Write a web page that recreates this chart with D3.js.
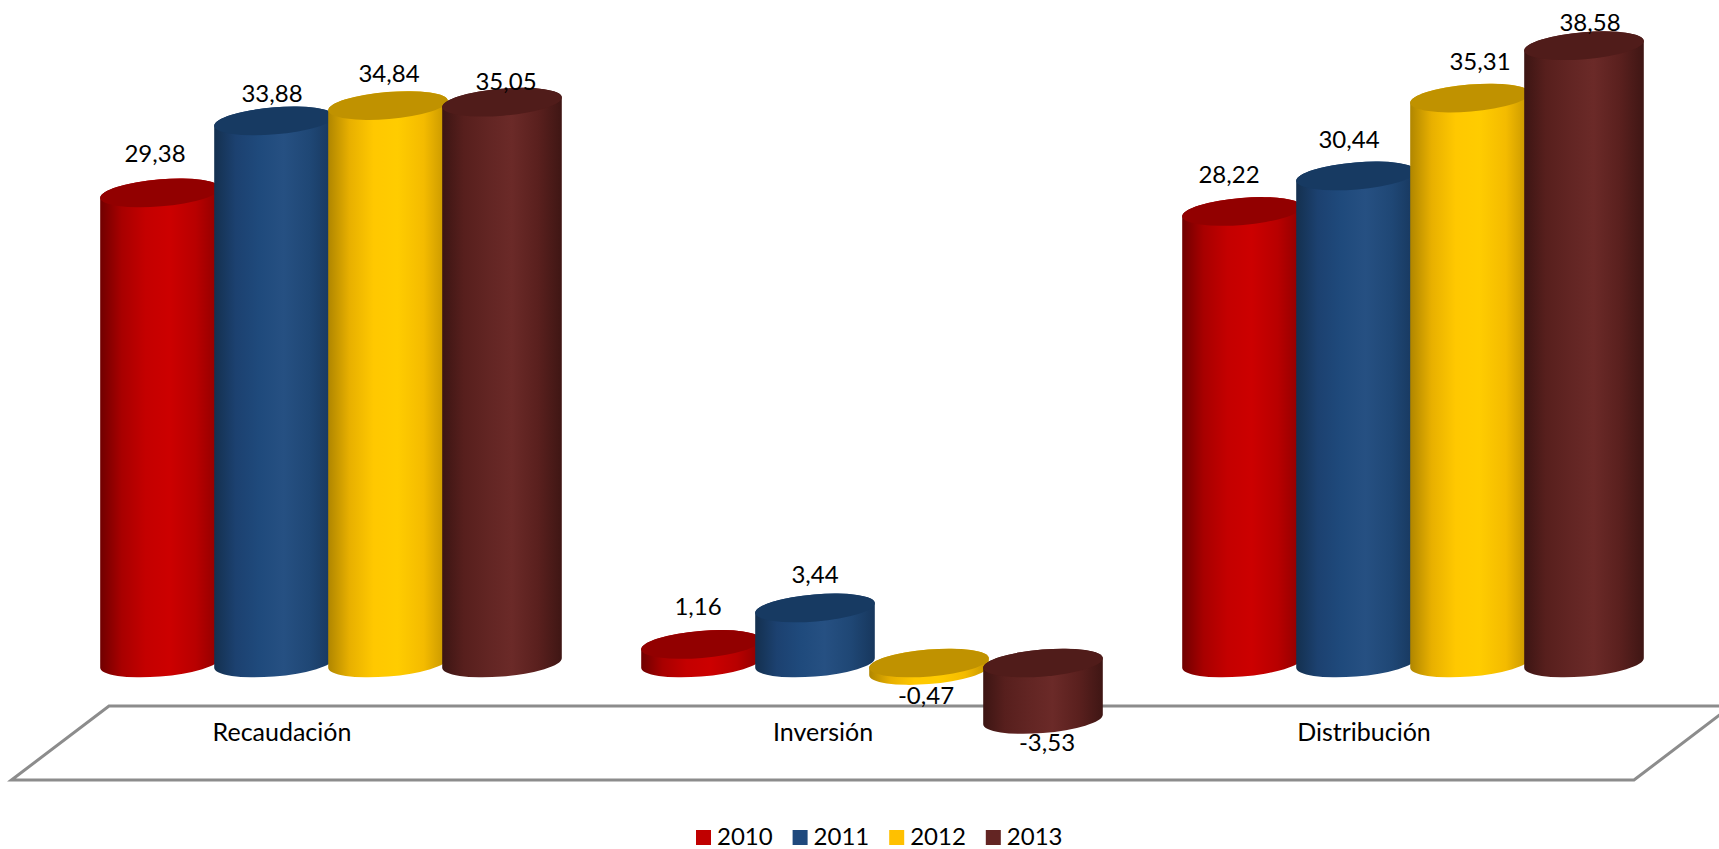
<!DOCTYPE html>
<html>
<head>
<meta charset="utf-8">
<script src="https://cdn.jsdelivr.net/npm/d3@7"></script>
<style>
  html, body { margin: 0; padding: 0; background: #fff; }
  svg { display: block; }
  text { font-family: Lato, "Open Sans", sans-serif; fill: #000; }
</style>
</head>
<body>
<svg id="chart" width="1719" height="849"></svg>
<script>
const categories = ["Recaudación", "Inversión", "Distribución"];
const years = ["2010", "2011", "2012", "2013"];

const values2010 = [29.38, 1.16, 28.22];
const values2011 = [33.88, 3.44, 30.44];
const values2012 = [34.84, -0.47, 35.31];
const values2013 = [35.05, -3.53, 38.58];

const seriesValues = [values2010, values2011, values2012, values2013];

// side shading of each cylinder, left to right, and its lid colour
const barColors = [
  ["#700000", "#a80000", "#c40000", "#cc0000", "#b80000", "#8e0000"],
  ["#14304f", "#1c4170", "#1f4a7c", "#265082", "#1f4775", "#17375d"],
  ["#b08600", "#e8b000", "#ffc800", "#ffcc00", "#f4bb00", "#c49400"],
  ["#3c1513", "#571f1d", "#622523", "#6b2a28", "#5a201e", "#3f1614"]
];
const lidColors = ["#920000", "#173a62", "#c09200", "#501c1a"];
const legendColors = ["#c00000", "#1f497d", "#ffc000", "#632523"];
const gradientStops = [0, 0.18, 0.38, 0.58, 0.8, 1];

// labels were placed by hand in the original chart
const labelNudgeX = [
  [-5, -2, 1, 4], [-3, 0, -3, 4], [-13, -7, 10, 6]
];
const labelBaseline = [
  [162, 102, 82, 90], [615, 583, 704, 751], [183, 148, 70, 31]
];

const valueSize = 24, categorySize = 25;
const rx = 60, ry = 13.5, tilt = -4.8;

const svg = d3.select("#chart");
const defs = svg.append("defs");

const x0 = d3.scaleBand()
  .domain(categories)
  .range([60.5, 1683.5]);

const x1 = d3.scaleBand()
  .domain(years)
  .range([x0.bandwidth() / 2 - 228, x0.bandwidth() / 2 + 228]);

const y = d3.scaleLinear()
  .domain([-5, 40])
  .range([743, 23]);

barColors.forEach((stops, i) => {
  const grad = defs.append("linearGradient")
    .attr("id", "side" + i);
  stops.forEach((c, j) => {
    grad.append("stop")
      .attr("offset", gradientStops[j])
      .attr("stop-color", c);
  });
});

// floor of the chart
const floorTop = 706, floorBottom = 780, floorSlant = 97.5;
const floorLeft = x0.range()[0] - 49, floorRight = x0.range()[1] - 49.5;
svg.append("path")
  .attr("d", d3.line()([
    [floorLeft, floorBottom],
    [floorLeft + floorSlant, floorTop],
    [floorRight + floorSlant, floorTop],
    [floorRight, floorBottom]
  ]) + "Z")
  .attr("fill", "none")
  .attr("stroke", "#8c8c8c")
  .attr("stroke-width", 3);

svg.selectAll(".cat")
  .data(categories)
  .enter().append("text")
  .attr("class", "cat")
  .attr("x", d => x0(d) + x0.bandwidth() / 2 - 49)
  .attr("y", 741)
  .attr("text-anchor", "middle")
  .attr("font-size", categorySize)
  .text(d => d);

// horizontal and vertical reach of the tilted ellipse
const t = tilt * Math.PI / 180;
const reachX = Math.sqrt(rx * rx * Math.cos(t) ** 2 + ry * ry * Math.sin(t) ** 2);
const reachY = (rx * rx - ry * ry) * Math.sin(t) * Math.cos(t) / reachX;

function sidePath(cx, top, bottom) {
  return `M${cx - reachX},${top - reachY}` +
    `L${cx - reachX},${bottom - reachY}` +
    `A${rx},${ry} ${tilt} 0 0 ${cx + reachX},${bottom + reachY}` +
    `L${cx + reachX},${top + reachY}` +
    `A${rx},${ry} ${tilt} 0 0 ${cx - reachX},${top - reachY}Z`;
}

categories.forEach((cat, c) => {
  const g = svg.append("g")
    .attr("transform", `translate(${x0(cat)},0)`);

  years.forEach((year, s) => {
    const v = seriesValues[s][c];
    const cx = x1(year) + x1.bandwidth() / 2;
    const top = y(Math.max(v, 0));
    const bottom = y(Math.min(v, 0));

    g.append("path")
      .attr("d", sidePath(cx, top, bottom))
      .attr("fill", `url(#side${s})`);

    g.append("ellipse")
      .attr("rx", rx)
      .attr("ry", ry)
      .attr("transform", `translate(${cx},${top}) rotate(${tilt})`)
      .attr("fill", lidColors[s]);
  });

  years.forEach((year, s) => {
    const v = seriesValues[s][c];
    g.append("text")
      .attr("x", x1(year) + x1.bandwidth() / 2 + labelNudgeX[c][s])
      .attr("y", labelBaseline[c][s])
      .attr("text-anchor", "middle")
      .attr("font-size", valueSize)
      .text(v.toFixed(2).replace(".", ","));
  });
});

// legend
const legendStep = 96.6, legendLeft = 696;
const legend = svg.selectAll(".legend")
  .data(years)
  .enter().append("g")
  .attr("class", "legend")
  .attr("transform", (d, i) => `translate(${legendLeft + i * legendStep},830)`);

legend.append("rect")
  .attr("width", 15)
  .attr("height", 15)
  .attr("fill", (d, i) => legendColors[i]);

legend.append("text")
  .attr("x", 21)
  .attr("y", 15)
  .attr("font-size", valueSize)
  .text(d => d);
</script>
</body>
</html>
